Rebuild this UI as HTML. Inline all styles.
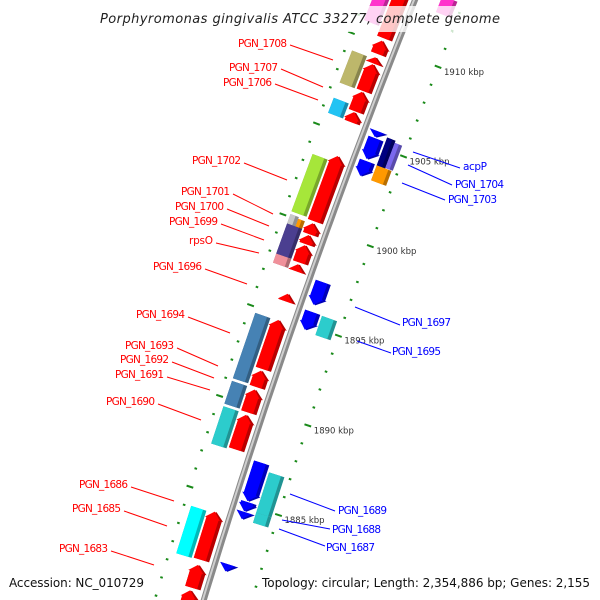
<!DOCTYPE html>
<html><head><meta charset="utf-8"><style>
html,body{margin:0;padding:0;background:#fff;overflow:hidden;width:600px;height:600px;}
svg{display:block;overflow:hidden;}
.lbl{font-family:"DejaVu Sans","Liberation Sans",sans-serif;font-size:10.5px;}
.tk{font-family:"DejaVu Sans","Liberation Sans",sans-serif;font-size:8.5px;fill:#333;}
</style></head><body>
<svg id="chart" width="600" height="600" viewBox="0 0 600 600" xmlns="http://www.w3.org/2000/svg">
<g id="ticks"></g>
<g id="backbone"></g>
<g id="genes"></g>
<g id="labels" class="lbl">
<g fill="#ff0000" stroke="none">
<text x="238" y="47" textLength="49">PGN_1708</text>
<text x="229" y="71" textLength="49">PGN_1707</text>
<text x="223" y="86" textLength="49">PGN_1706</text>
<text x="192" y="164" textLength="49">PGN_1702</text>
<text x="181" y="195" textLength="49">PGN_1701</text>
<text x="175" y="210" textLength="49">PGN_1700</text>
<text x="169" y="225" textLength="49">PGN_1699</text>
<text x="189" y="244" textLength="24">rpsO</text>
<text x="153" y="270" textLength="49">PGN_1696</text>
<text x="136" y="318" textLength="49">PGN_1694</text>
<text x="125" y="349" textLength="49">PGN_1693</text>
<text x="120" y="363" textLength="49">PGN_1692</text>
<text x="115" y="378" textLength="49">PGN_1691</text>
<text x="106" y="405" textLength="49">PGN_1690</text>
<text x="79" y="488" textLength="49">PGN_1686</text>
<text x="72" y="512" textLength="49">PGN_1685</text>
<text x="59" y="552" textLength="49">PGN_1683</text>
</g>
<g stroke="#ff0000" stroke-width="1">
<line x1="290" y1="45" x2="333" y2="60"/><line x1="281" y1="69" x2="323" y2="87"/><line x1="275" y1="84" x2="318" y2="100"/>
<line x1="244" y1="163" x2="287" y2="180"/><line x1="233" y1="194" x2="273" y2="214"/><line x1="227" y1="209" x2="269" y2="226"/>
<line x1="221" y1="224" x2="264" y2="240"/><line x1="216" y1="243" x2="259" y2="253"/><line x1="205" y1="269" x2="247" y2="284"/>
<line x1="188" y1="317" x2="230" y2="333"/><line x1="177" y1="348" x2="218" y2="366"/><line x1="172" y1="362" x2="214" y2="378"/>
<line x1="167" y1="377" x2="210" y2="390"/><line x1="158" y1="404" x2="201" y2="420"/><line x1="131" y1="487" x2="174" y2="501"/>
<line x1="124" y1="511" x2="167" y2="526"/><line x1="111" y1="551" x2="154" y2="565"/>
</g>
<g fill="#0000ff">
<text x="463" y="170" textLength="24">acpP</text>
<text x="455" y="188" textLength="49">PGN_1704</text>
<text x="448" y="203" textLength="49">PGN_1703</text>
<text x="402" y="326" textLength="49">PGN_1697</text>
<text x="392" y="355" textLength="49">PGN_1695</text>
<text x="338" y="514" textLength="49">PGN_1689</text>
<text x="332" y="533" textLength="49">PGN_1688</text>
<text x="326" y="551" textLength="49">PGN_1687</text>
</g>
<g stroke="#0000ff" stroke-width="1">
<line x1="413" y1="152" x2="460" y2="168"/><line x1="408" y1="165" x2="452" y2="185"/><line x1="402" y1="183" x2="445" y2="200"/>
<line x1="355" y1="307" x2="400" y2="325"/><line x1="357" y1="341" x2="391" y2="353"/>
<line x1="290" y1="494" x2="335" y2="511"/><line x1="282" y1="520" x2="330" y2="529"/><line x1="279" y1="529" x2="325" y2="546"/>
</g>
</g>
<rect x="95" y="6" width="410" height="26" fill="#fff" opacity="0.78"/>
<text x="300" y="23" text-anchor="middle" font-family="DejaVu Sans, Liberation Sans, sans-serif" font-style="italic" font-size="13" fill="#222" textLength="400">Porphyromonas gingivalis ATCC 33277, complete genome</text>
<text x="9" y="587" font-family="DejaVu Sans, Liberation Sans, sans-serif" font-size="12" fill="#111" textLength="135">Accession: NC_010729</text>
<text x="262" y="587" font-family="DejaVu Sans, Liberation Sans, sans-serif" font-size="12" fill="#111" textLength="328">Topology: circular; Length: 2,354,886 bp; Genes: 2,155</text>
</svg>
<script>
// ---- data ----
const majorTicks = [1910, 1905, 1900, 1895, 1890, 1885];
const tickLabels = ["1910 kbp", "1905 kbp", "1900 kbp", "1895 kbp", "1890 kbp", "1885 kbp"];
const minorStart = 1876;
const minorEnd = 1914;
const geneStart = [1910.35,1909.48,1908.95,1907.43,1906.3,1905.7,1900.22,1899.5,1898.95,1897.94,1897.45,1895.79,1892.05,1891.05,1889.65,1887.6,1881.5,1879.95,1878.0,
  1910.85,1907.4,1905.73,1900.3,1899.63,1899.5,1897.97,1897.47,1891.1,1889.7,1887.5,1881.45,1875.5,
  1905.42,1904.2,1903.26,1896.1,1894.72,1885.2,1884.63,1884.2,1881.3,
  1904.07,1904.1,1903.24,1894.64,1884.76,1884.2,1912.6];
const geneEnd = [1914.0,1910.2,1909.28,1908.9,1907.37,1906.25,1903.82,1900.1,1899.45,1898.89,1897.84,1896.2,1894.75,1891.95,1890.9,1889.5,1884.15,1881.2,1879.8,
  1913.5,1909.17,1906.56,1903.46,1900.15,1900.05,1899.63,1897.97,1894.7,1890.95,1889.55,1884.06,1877.93,
  1905.75,1905.36,1904.09,1897.38,1895.72,1887.35,1885.15,1884.6,1881.7,
  1905.62,1905.5,1904.07,1895.7,1887.0,1884.76,1913.5];
const geneRing = ["li","li","li","li","li","li","li","li","li","li","li","li","li","li","li","li","li","li","li",
  "lo","lo","lo","lo","loa","lob","lo","lo","lo","lo","lo","lo","lo",
  "ri","ri","ri","ri","ri","ri","ri","ri","ri",
  "roa","rob","ro","ro","ro","ro","ro"];
const geneColor = ["#ff0000","#ff0000","#ff0000","#ff0000","#ff0000","#ff0000","#ff0000","#ff0000","#ff0000","#ff0000","#ff0000","#ff0000","#ff0000","#ff0000","#ff0000","#ff0000","#ff0000","#ff0000","#ff0000",
  "#ff33cc","#bdb76b","#22c3f3","#a6e63a","#c8c8c8","#ff9900","#4b3f90","#f0909a","#4682b4","#4682b4","#2ccccc","#00ffff","#33ee99",
  "#0000ff","#0000ff","#0000ff","#0000ff","#0000ff","#0000ff","#0000ff","#0000ff","#0000ff",
  "#000080","#7b68ee","#ff9900","#2ccccc","#2ccccc","#2ccccc","#ff33cc"];
const geneArrow = [1,1,1,1,1,1,1,1,1,1,1,1,1,1,1,1,1,1,1,
  0,0,0,0,0,0,0,0,0,0,0,0,0,
  1,1,1,1,1,1,1,1,1,
  0,0,0,0,0,0,0];

// ---- geometry ----
const ringV = {li:[-22,-6], lo:[-40,-24], loa:[-40,-31], lob:[-31,-24], ri:[6,22], ro:[24,40], roa:[24,33], rob:[33,41]};
function yb(k){ return 50 + (1910 - k) * 18.04; }
function bx(y){ return 415 - 0.4*y + 0.00008*y*y; }
function P(k, v){
  const y = yb(k), x = bx(y), d = -0.4 + 0.00016*y, n = Math.hypot(1, d);
  return [x + v/n, y - v*d/n];
}
const NS = "http://www.w3.org/2000/svg";
function mk(tag, attrs, parent){
  const e = document.createElementNS(NS, tag);
  for (const a in attrs) e.setAttribute(a, attrs[a]);
  parent.appendChild(e); return e;
}
function shade(hex, f){
  const n = parseInt(hex.slice(1), 16);
  const r = Math.round(((n>>16)&255)*f), g = Math.round(((n>>8)&255)*f), b = Math.round((n&255)*f);
  return "rgb(" + Math.min(255,r) + "," + Math.min(255,g) + "," + Math.min(255,b) + ")";
}
function pts(arr){ return arr.map(p => p[0].toFixed(1) + "," + p[1].toFixed(1)).join(" "); }

// backbone
let bpath = "";
for (let y = -10; y <= 610; y += 10) bpath += (y === -10 ? "M" : "L") + bx(y).toFixed(1) + "," + y;
const bbg = document.getElementById("backbone");
const b1 = mk("path", {d: bpath, stroke: "#8a8a8a", "stroke-width": 6, fill: "none"}, bbg);


const b2 = mk("path", {d: bpath, stroke: "#cfcfcf", "stroke-width": 2, fill: "none", transform: "translate(-1,0)"}, bbg);



// ticks
const tg = document.getElementById("ticks");
for (let k = minorStart; k <= minorEnd; k++) {
  const major = majorTicks.indexOf(k) >= 0;
  [46, -47].forEach(v => {
    const h = major ? 3.5 : 1.3;
    const a = P(k, v - h), b = P(k, v + h);
    const l = mk("line", {x1:a[0], y1:a[1], x2:b[0], y2:b[1], stroke:"#1a8a1a", "stroke-width": 2}, tg);
    
    
  });
}
majorTicks.forEach((k, i) => {
  const p = P(k, 46);
  const t = mk("text", {x: p[0] + 6, y: p[1] + 8, class: "tk"}, tg);
  t.textContent = tickLabels[i];
  
  
});

// genes
const gg = document.getElementById("genes");
for (let i = 0; i < geneStart.length; i++) {
  const k1 = geneStart[i], k2 = geneEnd[i], ring = geneRing[i];
  const v0 = ringV[ring][0], v1 = ringV[ring][1];
  const left = ring[0] === "l";
  const col = geneColor[i];
  const g = mk("g", {}, gg);
  
  
  const shape = function(va, vb){
    const vm = (va + vb) / 2;
    if (!geneArrow[i]) return [P(k1,va), P(k2,va), P(k2,vb), P(k1,vb)];
    const h = Math.min(0.4, k2 - k1);
    if (left) {
      const kb = k2 - h;
      return [P(k1,va), P(kb,va), P(kb,va-1.5), P(k2,vm), P(kb,vb+1.5), P(kb,vb), P(k1,vb)];
    } else {
      const kb = k1 + h;
      return [P(k2,va), P(kb,va), P(kb,va-1.5), P(k1,vm), P(kb,vb+1.5), P(kb,vb), P(k2,vb)];
    }
  };
  const side = mk("polygon", {points: pts(shape(v0, v1)), fill: shade(col, 0.72)}, g);
  
  
  const face = mk("polygon", {points: pts(shape(v0, v1 - 3.5)), fill: col}, g);
  
  
}
</script>
</body></html>
